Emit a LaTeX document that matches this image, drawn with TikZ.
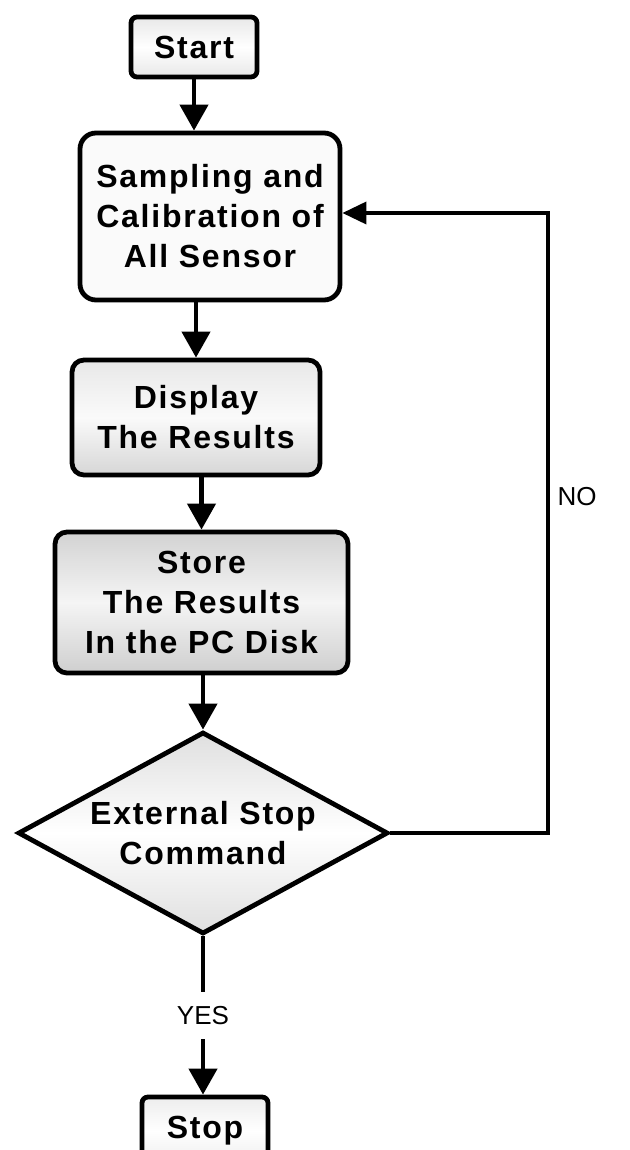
\documentclass[tikz,border=0pt]{standalone}
\usepackage{fontspec}
\usetikzlibrary{shapes.geometric,arrows.meta}
\newfontfamily\labfont[LetterSpace=5.5]{Liberation Sans}
\newfontfamily\tagfont{Liberation Sans}
\begin{document}
\begin{tikzpicture}[x=0.5pt,y=-0.5pt,
  every node/.style={inner sep=0pt},
  procbox/.style={draw, line width=2.4pt, align=center,
    font=\labfont\bfseries\fontsize{16}{20}\selectfont},
  conn/.style={line width=2.2pt, -{Triangle[width=14pt,length=13pt]}},
  loopconn/.style={line width=1.8pt, -{Triangle[width=11pt,length=12pt]}},
  taglabel/.style={font=\tagfont\fontsize{13}{15}\selectfont}
]
\useasboundingbox (0,0) rectangle (630,1150);

\node[procbox, rounded corners=3pt, minimum width=63pt, minimum height=30pt,
  top color=gray!18, bottom color=gray!18, middle color=white] (start) at (194,47) {Start};

\node[procbox, rounded corners=8pt, minimum width=130pt, minimum height=83.5pt,
  fill=gray!4] (samp) at (210,216.5) {Sampling and\\Calibration of\\All Sensor};

\node[procbox, rounded corners=6pt, minimum width=124pt, minimum height=57.5pt,
  top color=gray!18, bottom color=gray!32, middle color=gray!4] (disp) at (196,417.5) {Display\\The Results};

\node[procbox, rounded corners=6pt, minimum width=146.5pt, minimum height=70.5pt,
  top color=gray!35, bottom color=gray!38, middle color=gray!8] (store) at (201.5,602.5) {Store\\The Results\\In the PC Disk};

\node[procbox, diamond, aspect=1.83, minimum width=185pt, minimum height=101pt,
  top color=gray!25, bottom color=gray!25, middle color=white] (dec) at (203,833) {External Stop\\Command};

\node[procbox, rounded corners=3pt, minimum width=63pt, minimum height=34pt,
  top color=gray!14, bottom color=gray!14, middle color=white] (stop) at (205,1131) {Stop};

\draw[conn] (start.south) -- (start.south |- samp.north);
\draw[conn] (disp.north |- samp.south) -- (disp.north);
\draw[conn] (store.north |- disp.south) -- (store.north);
\draw[conn] (dec.north |- store.south) -- (dec.north);
\draw[conn] (dec.south) -- node[taglabel, fill=white, inner xsep=2pt, inner ysep=7pt] (yes) {YES} (dec.south |- stop.north);

\coordinate (c2) at (548,213);
\draw[loopconn] (dec.east) -| (c2) -- (samp.east |- c2);
\node[taglabel] (no) at (577,497) {NO};
\end{tikzpicture}
\end{document}
